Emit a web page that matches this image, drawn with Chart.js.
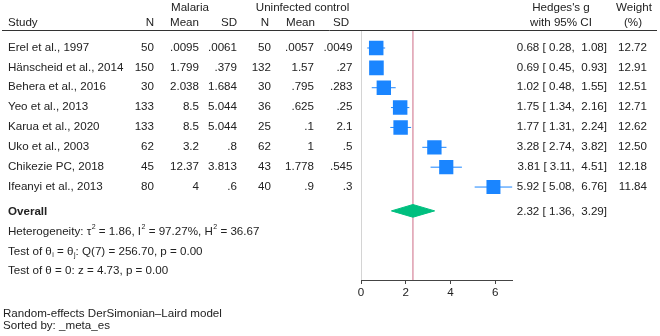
<!DOCTYPE html>
<html>
<head>
<meta charset="utf-8">
<script src="https://cdn.jsdelivr.net/npm/chart.js@4.4.1/dist/chart.umd.min.js"></script>
<style>
  html, body { margin: 0; padding: 0; background: #fff; }
</style>
</head>
<body>
<canvas id="forest" width="660" height="336"></canvas>
<script>
const studies = [
    "Erel et al., 1997", "Hänscheid et al., 2014", "Behera et al., 2016", "Yeo et al., 2013",
    "Karua et al., 2020", "Uko et al., 2003", "Chikezie PC, 2018", "Ifeanyi et al., 2013"
];
const malariaN = [50, 150, 30, 133, 133, 62, 45, 80];
const malariaMean = [.0095, 1.799, 2.038, 8.5, 8.5, 3.2, 12.37, 4];
const malariaSD = [.0061, .379, 1.684, 5.044, 5.044, .8, 3.813, .6];
const controlN = [50, 132, 30, 36, 25, 62, 43, 40];
const controlMean = [.0057, 1.57, .795, .625, .1, 1, 1.778, .9];
const controlSD = [.0049, .27, .283, .25, 2.1, .5, .545, .3];
const hedgesG = [0.68, 0.69, 1.02, 1.75, 1.77, 3.28, 3.81, 5.92];
const ciLow = [0.28, 0.45, 0.48, 1.34, 1.31, 2.74, 3.11, 5.08];
const ciHigh = [1.08, 0.93, 1.55, 2.16, 2.24, 3.82, 4.51, 6.76];
const weights = [12.72, 12.91, 12.51, 12.71, 12.62, 12.50, 12.18, 11.84];
const overallG = 2.32, overallLow = 1.36, overallHigh = 3.29;
const tau2 = 1.86, iSq = 97.27, hSq = 36.67;
const qStat = 256.70, qDf = 7, qP = 0.00, zStat = 4.73, zP = 0.00;
const xTicks = [0, 2, 4, 6];

const BLUE = "#1a85ff", GREEN = "#00bf7f", PINK = "#e0a3b3", TEXT = "#222";
const FONT = "'Liberation Sans', Arial, sans-serif";
const FS = 11.6;
const OVERALL_ROW = 8.2;

// Stata-style number: drop the leading zero
function stataNum(v) {
    return String(v).replace(/^0\./, ".");
}

function ciText(g, lo, hi) {
    return `${g.toFixed(2)} [${lo.toFixed(2).padStart(5)}, ${hi.toFixed(2).padStart(5)}]`;
}

// draw text with super/subscripts, parts: strings or {sup} / {sub}
function drawRich(ctx, x, y, parts) {
    parts.forEach(p => {
        if (typeof p === "string") {
            ctx.font = `${FS}px ${FONT}`;
            ctx.fillText(p, x, y);
            x += ctx.measureText(p).width;
        } else {
            const t = p.sup || p.sub;
            ctx.font = `7px ${FONT}`;
            ctx.fillText(t, x + 0.5, p.sup ? y - 5 : y + 3);
            x += ctx.measureText(t).width + 0.5;
        }
    });
}

const tablePlugin = {
    id: "forestTable",
    afterDraw(chart) {
        const ctx = chart.ctx;
        const y = chart.scales.y;
        ctx.save();
        ctx.fillStyle = TEXT;
        ctx.textBaseline = "middle";
        ctx.font = `${FS}px ${FONT}`;

        // headers
        ctx.textAlign = "center";
        ctx.fillText("Malaria", 190, 8);
        ctx.fillText("Uninfected control", 302.5, 8);
        ctx.fillText("Hedges's g", 561, 8);
        ctx.fillText("with 95% CI", 561, 23);
        ctx.fillText("Weight", 634, 8);
        ctx.fillText("(%)", 633, 23);
        ctx.textAlign = "left";
        ctx.fillText("Study", 8, 23);
        ctx.textAlign = "right";
        [["N", 154], ["Mean", 199], ["SD", 237], ["N", 269], ["Mean", 315], ["SD", 349]]
            .forEach(([t, x]) => ctx.fillText(t, x, 23));

        ctx.strokeStyle = "#333";
        ctx.lineWidth = 1;
        ctx.beginPath();
        ctx.moveTo(2, 30.5);
        ctx.lineTo(657, 30.5);
        ctx.stroke();

        // study rows
        studies.forEach((name, i) => {
            const py = y.getPixelForValue(i) - 0.5;
            ctx.textAlign = "left";
            ctx.fillText(name, 8, py);
            ctx.textAlign = "right";
            ctx.fillText(String(malariaN[i]), 154, py);
            ctx.fillText(stataNum(malariaMean[i]), 199, py);
            ctx.fillText(stataNum(malariaSD[i]), 237, py);
            ctx.fillText(String(controlN[i]), 271, py);
            ctx.fillText(stataNum(controlMean[i]), 314, py);
            ctx.fillText(stataNum(controlSD[i]), 352.5, py);
            ctx.fillText(ciText(hedgesG[i], ciLow[i], ciHigh[i]), 607, py);
            ctx.fillText(weights[i].toFixed(2), 647, py);
        });

        // overall
        const oy = y.getPixelForValue(OVERALL_ROW) + 0.5;
        ctx.textAlign = "right";
        ctx.fillText(ciText(overallG, overallLow, overallHigh), 607, oy);
        ctx.textAlign = "left";
        ctx.font = `bold ${FS}px ${FONT}`;
        ctx.fillText("Overall", 8, oy);

        drawRich(ctx, 8, y.getPixelForValue(OVERALL_ROW + 1) + 1, [
            "Heterogeneity: \u03c4", { sup: "2" }, ` = ${tau2.toFixed(2)}, I`, { sup: "2" },
            ` = ${iSq.toFixed(2)}%, H`, { sup: "2" }, ` = ${hSq.toFixed(2)}`
        ]);
        drawRich(ctx, 8, y.getPixelForValue(OVERALL_ROW + 2) + 1, [
            "Test of \u03b8", { sub: "i" }, " = \u03b8", { sub: "j" },
            `: Q(${qDf}) = ${qStat.toFixed(2)}, p = ${qP.toFixed(2)}`
        ]);
        drawRich(ctx, 8, y.getPixelForValue(OVERALL_ROW + 3), [
            `Test of \u03b8 = 0: z = ${zStat.toFixed(2)}, p = ${zP.toFixed(2)}`
        ]);

        // footnote
        ctx.font = `${FS}px ${FONT}`;
        ctx.fillText("Random-effects DerSimonian\u2013Laird model", 3, 314);
        ctx.fillText("Sorted by: _meta_es", 3, 326);
        ctx.restore();
    }
};

const yTop = -0.906, yBottom = 11.68;

const datasets = [];
// study markers
datasets.push({
    type: "scatter",
    data: hedgesG.map((g, i) => ({ x: g, y: i })),
    pointStyle: "rect",
    pointRadius: weights.map(w => 7.3 * Math.sqrt(w / 12.91) * Math.SQRT2),
    backgroundColor: BLUE,
    borderWidth: 0,
    order: 0
});
// overall diamond
datasets.push({
    type: "line",
    data: [
        { x: overallLow, y: OVERALL_ROW }, { x: overallG, y: OVERALL_ROW - 0.32 },
        { x: overallHigh, y: OVERALL_ROW }, { x: overallG, y: OVERALL_ROW + 0.32 },
        { x: overallLow, y: OVERALL_ROW }
    ],
    borderColor: GREEN,
    borderWidth: 1,
    backgroundColor: GREEN,
    fill: "shape",
    pointRadius: 0,
    tension: 0,
    order: 1
});
// confidence intervals
hedgesG.forEach((g, i) => {
    datasets.push({
        type: "line",
        data: [{ x: ciLow[i], y: i }, { x: ciHigh[i], y: i }],
        borderColor: BLUE,
        borderWidth: 1,
        pointRadius: 0,
        order: 2
    });
});
// overall effect line
datasets.push({
    type: "line",
    data: [{ x: overallG, y: yTop }, { x: overallG, y: yBottom }],
    borderColor: PINK,
    borderWidth: 1.6,
    pointRadius: 0,
    order: 3
});
// no-effect line
datasets.push({
    type: "line",
    data: [{ x: 0, y: yTop }, { x: 0, y: yBottom }],
    borderColor: "#d4d4d4",
    borderWidth: 2,
    pointRadius: 0,
    order: 4
});

new Chart(document.getElementById("forest"), {
    type: "scatter",
    data: { datasets },
    options: {
        responsive: false,
        animation: false,
        devicePixelRatio: 1,
        layout: { padding: { left: 361, right: 147.3, top: 30, bottom: 0 } },
        plugins: { legend: { display: false }, tooltip: { enabled: false } },
        scales: {
            x: {
                type: "linear",
                min: 0,
                max: 6.78,
                afterBuildTicks: s => { s.ticks = xTicks.map(v => ({ value: v })); },
                afterFit: s => { s.height = 56; },
                grid: { drawOnChartArea: false, drawTicks: true, tickLength: 4, color: "#444" },
                border: { color: "#444", width: 1 },
                ticks: { color: TEXT, padding: 2, font: { family: FONT, size: FS } }
            },
            y: {
                type: "linear",
                display: false,
                reverse: true,
                min: yTop,
                max: yBottom
            }
        }
    },
    plugins: [tablePlugin]
});
</script>
</body>
</html>
